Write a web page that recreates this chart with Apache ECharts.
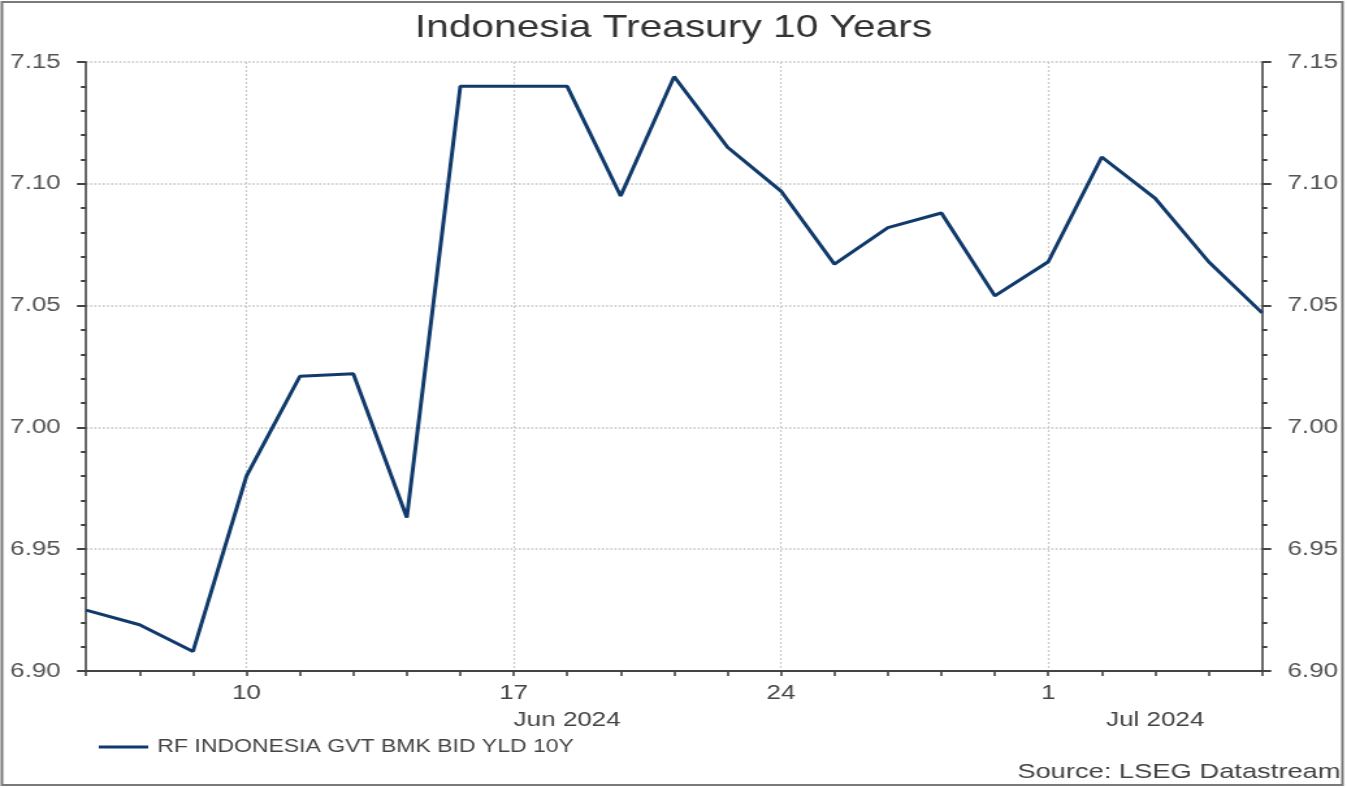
<!DOCTYPE html>
<html>
<head>
<meta charset="utf-8">
<script src="https://cdn.jsdelivr.net/npm/echarts@6/dist/echarts.min.js"></script>
<style>
html,body{margin:0;padding:0;background:#fff;overflow:hidden;}
#wrap{width:1347px;height:788px;overflow:hidden;}
#chart{width:1036px;height:788px;transform:scaleX(1.3002);transform-origin:0 0;}
</style>
</head>
<body>
<div id="wrap"><div id="chart"></div></div>
<script>
const dates = ['2024-06-05','2024-06-06','2024-06-07','2024-06-10','2024-06-11','2024-06-12','2024-06-13','2024-06-14',
  '2024-06-17','2024-06-18','2024-06-19','2024-06-20','2024-06-21','2024-06-24','2024-06-25','2024-06-26',
  '2024-06-27','2024-06-28','2024-07-01','2024-07-02','2024-07-03','2024-07-04','2024-07-05'];
const yields = [6.925,6.919,6.908,6.980,7.021,7.022,6.963,7.140,
  7.140,7.140,7.095,7.144,7.115,7.097,7.067,7.082,
  7.088,7.054,7.068,7.111,7.094,7.068,7.047];
const dayTicks = {'2024-06-10':'10','2024-06-17':'17','2024-06-24':'24','2024-07-01':'1'};
const monthLabels = {'2024-06-18':'Jun 2024','2024-07-03':'Jul 2024'};
const yTicks = ['6.90','6.95','7.00','7.05','7.10','7.15'];
const seriesName = 'RF INDONESIA GVT BMK BID YLD 10Y';
const titleText = 'Indonesia Treasury 10 Years';
const sourceText = 'Source: LSEG Datastream';

const FONT = '"Liberation Sans", Arial, sans-serif';
const chart = echarts.init(document.getElementById('chart'));
const isDayTick = (i) => dayTicks[dates[i]] !== undefined;
const gridDots = {color: '#c4c4c4', type: [1.6, 1.6], width: 1.5};
const yAxisCommon = {
  type: 'value', min: 6.9, max: 7.15, interval: 0.05,
  axisLine: {show: true, lineStyle: {color: '#444', width: 1.6}},
  axisTick: {show: true, inside: false, length: 7, lineStyle: {color: '#444', width: 2}},
  minorTick: {show: true, splitNumber: 5, length: 4, lineStyle: {color: '#444', width: 2}},
  axisLabel: {color: '#555', fontSize: 20, fontFamily: FONT,
    formatter: v => yTicks.find(t => Math.abs(parseFloat(t) - v) < 1e-6) || v.toFixed(2), margin: 19.5},
};
chart.setOption({
  animation: false,
  backgroundColor: '#fff',
  title: {text: titleText, left: 'center', top: 8,
    textStyle: {fontFamily: FONT, fontSize: 31.3, fontWeight: 'normal', color: '#333'}},
  grid: {left: 66.2, right: 65.3, top: 62, bottom: 117, containLabel: false},
  legend: {
    data: [seriesName], left: 71, top: 733, icon: 'rect', itemWidth: 38, itemHeight: 3, itemGap: 10,
    textStyle: {fontFamily: FONT, fontSize: 17.7, color: '#444', padding: [0,0,0,2]}
  },
  xAxis: [{
    type: 'category', data: dates, boundaryGap: false, position: 'bottom',
    axisLine: {show: true, onZero: false, lineStyle: {color: '#444', width: 2}},
    axisTick: {show: true, interval: 0, length: 5, lineStyle: {color: '#444', width: 1.6}},
    axisLabel: {interval: (i) => isDayTick(i), formatter: (v) => dayTicks[v] || '',
      color: '#444', fontSize: 20, fontFamily: FONT, margin: 12},
    splitLine: {show: true, interval: (i) => isDayTick(i), lineStyle: {color: '#c8c8c8', type: [2, 2], width: 1.1}}
  }, {
    type: 'category', data: dates, boundaryGap: false, position: 'bottom', offset: 28,
    axisLine: {show: false}, axisTick: {show: false}, splitLine: {show: false},
    axisLabel: {interval: (i) => monthLabels[dates[i]] !== undefined, formatter: (v) => monthLabels[v] || '',
      color: '#444', fontSize: 20, fontFamily: FONT, margin: 11}
  }],
  yAxis: [Object.assign({}, yAxisCommon, {position: 'left', splitLine: {show: true, lineStyle: gridDots}}),
    Object.assign({}, yAxisCommon, {position: 'right', splitLine: {show: false}})],
  series: [{
    name: seriesName, type: 'line', data: yields, xAxisIndex: 0, yAxisIndex: 0,
    symbol: 'none', lineStyle: {color: '#103a6b', width: 3}, itemStyle: {color: '#103a6b'}
  }],
  graphic: [
    {type: 'rect', shape: {x: 1.5, y: 2, width: 1031, height: 783}, silent: true,
      style: {fill: 'none', stroke: '#7a7a7a', lineWidth: 2}},
    {type: 'text', right: 5, top: 762, silent: true,
      style: {text: sourceText, font: '21px ' + FONT, fill: '#444'}}
  ]
});
</script>
</body>
</html>
